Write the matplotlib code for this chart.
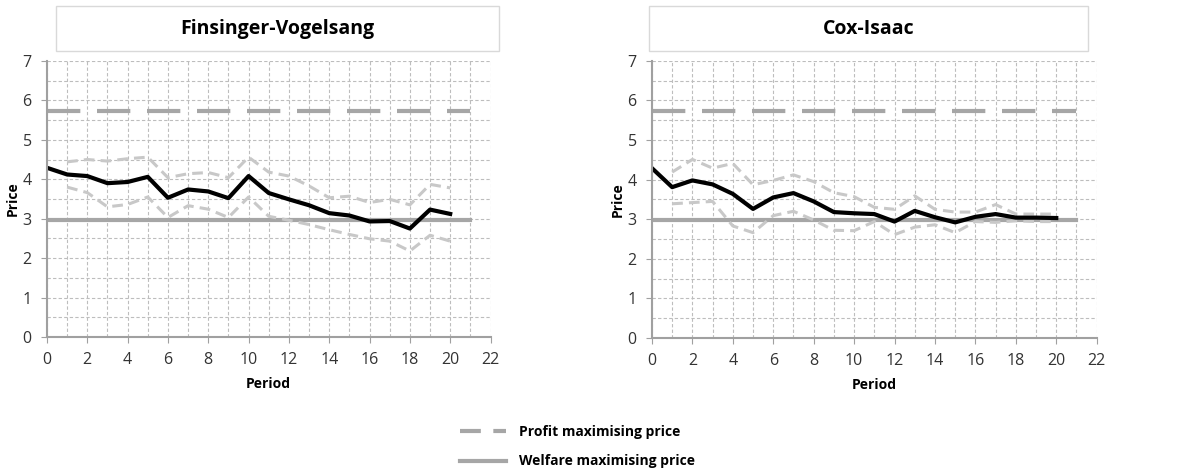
import matplotlib
matplotlib.use("Agg")
import matplotlib.pyplot as plt
from matplotlib.lines import Line2D
from matplotlib.patches import Rectangle
from matplotlib.ticker import MultipleLocator

plt.rcParams["font.family"] = ["Open Sans", "DejaVu Sans"]

periods = list(range(21))
ci_periods = list(range(1, 21))

fv_mean = [4.29, 4.12, 4.08, 3.90, 3.93, 4.06, 3.53, 3.74, 3.69, 3.52, 4.08,
           3.65, 3.49, 3.34, 3.14, 3.08, 2.93, 2.94, 2.75, 3.23, 3.12]
fv_upper = [4.44, 4.50, 4.46, 4.52, 4.56, 4.04, 4.14, 4.17, 4.04, 4.56,
            4.18, 4.08, 3.83, 3.53, 3.57, 3.41, 3.49, 3.35, 3.87, 3.78]
fv_lower = [3.80, 3.66, 3.30, 3.36, 3.55, 3.03, 3.33, 3.24, 3.03, 3.55,
            3.06, 2.96, 2.85, 2.72, 2.60, 2.49, 2.43, 2.18, 2.58, 2.43]

ci_mean = [4.29, 3.81, 3.98, 3.88, 3.64, 3.26, 3.55, 3.66, 3.45, 3.18, 3.15,
           3.13, 2.94, 3.21, 3.05, 2.92, 3.06, 3.13, 3.04, 3.04, 3.03]
ci_upper = [4.19, 4.51, 4.29, 4.41, 3.87, 3.98, 4.12, 3.95, 3.67, 3.57,
            3.30, 3.25, 3.59, 3.25, 3.18, 3.18, 3.37, 3.13, 3.13, 3.13]
ci_lower = [3.39, 3.42, 3.45, 2.83, 2.66, 3.09, 3.20, 2.98, 2.72, 2.71,
            2.94, 2.61, 2.80, 2.86, 2.66, 2.94, 2.92, 2.96, 2.94, 2.94]

profit_price = 5.74
welfare_price = 2.97
ref_x = [0, 21]

titles = ["Finsinger-Vogelsang", "Cox-Isaac"]
series = [(fv_mean, fv_upper, fv_lower), (ci_mean, ci_upper, ci_lower)]

GRID = "#bdbdbd"
AXIS = "#a0a0a0"
REF = "#a6a6a6"
BAND = "#c8c8c8"

fig = plt.figure(figsize=(11.86, 4.72), dpi=100)
axes_pos = [[0.0396, 0.286, 0.374, 0.585], [0.5497, 0.284, 0.375, 0.587]]
title_boxes = [(56, 499), (649, 1088)]

for pos, title, (mean, upper, lower), (bx0, bx1) in zip(axes_pos, titles, series, title_boxes):
    ax = fig.add_axes(pos)
    ax.set_xlim(0, 22)
    ax.set_ylim(0, 7)
    ax.xaxis.set_major_locator(MultipleLocator(2))
    ax.xaxis.set_minor_locator(MultipleLocator(1))
    ax.yaxis.set_major_locator(MultipleLocator(1))
    ax.yaxis.set_minor_locator(MultipleLocator(0.5))
    ax.grid(True, which="both", color=GRID, linestyle=(0, (3, 2)), linewidth=0.8)
    ax.set_axisbelow(True)
    for s in ["top", "right"]:
        ax.spines[s].set_visible(False)
    for s in ["left", "bottom"]:
        ax.spines[s].set_color(AXIS)
        ax.spines[s].set_linewidth(1.5)
    ax.tick_params(which="major", length=4, color=AXIS, labelsize=11.5,
                   labelcolor="#333333", pad=7)
    ax.tick_params(which="minor", length=0)

    ax.plot(ref_x, [profit_price] * 2, color=REF, lw=3, dashes=(8, 4))
    ax.plot(ref_x, [welfare_price] * 2, color=REF, lw=3)
    ax.plot(ci_periods, upper, color=BAND, lw=2.2, dashes=(3.5, 2))
    ax.plot(ci_periods, lower, color=BAND, lw=2.2, dashes=(3.5, 2))
    ax.plot(periods, mean, color="black", lw=3)

    ax.set_xlabel("Period", fontsize=10, fontweight="bold", labelpad=6)
    ax.set_ylabel("Price", fontsize=10, fontweight="bold", labelpad=2)

    fig.patches.append(Rectangle((bx0 / 1186, 1 - 51 / 472), (bx1 - bx0) / 1186, 45 / 472,
                                 transform=fig.transFigure, fill=False,
                                 edgecolor="#d9d9d9", lw=1))
    fig.text((bx0 + bx1) / 2 / 1186, 1 - 29 / 472, title, ha="center", va="center",
             fontsize=14, fontweight="bold")

handles = [Line2D([], [], color=REF, lw=3, dashes=(5, 3)),
           Line2D([], [], color=REF, lw=3)]
fig.legend(handles, ["Profit maximising price", "Welfare maximising price"],
           loc="center", bbox_to_anchor=(0.487, 0.054), frameon=False,
           prop={"size": 10, "weight": "bold"}, handlelength=3.3,
           labelspacing=1.15, handletextpad=1.0)

fig.savefig("out.png", dpi=100)
